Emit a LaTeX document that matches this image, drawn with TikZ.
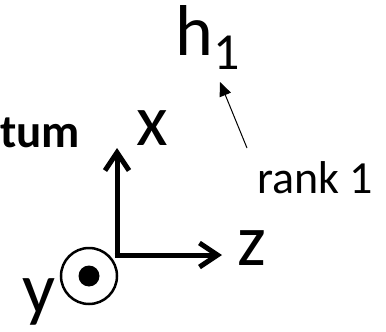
\documentclass[tikz,border=0pt]{standalone}
\usepackage{fontspec}
\setmainfont{Carlito}
\usetikzlibrary{arrows.meta, positioning}

\begin{document}
\begin{tikzpicture}[
  x=1pt, y=-1pt,
  axis/.style={line width=5pt, -{Straight Barb[length=18pt, width=24pt, line width=5pt]}},
  ptr/.style={line width=1pt, -{Triangle[length=14pt, width=12pt]}},
  big/.style={inner sep=0pt, font=\fontsize{73}{73}\selectfont},
  lbl/.style={inner sep=0pt, font=\fontsize{46}{46}\selectfont}
]
\useasboundingbox (0,0) rectangle (386,332);

% frame
\coordinate (o) at (117,255);
\coordinate (xtip) at (117,148);
\coordinate (ztip) at (222,255);
\draw[axis] (o) -- (xtip);
\draw[axis] ([xshift=-2.5pt]o) -- (ztip);

% out-of-plane y axis
\node[circle, draw, line width=2.5pt, minimum size=56pt, inner sep=0pt] (ycirc) at (89,276) {};
\fill (ycirc.center) circle (10.5pt);

% labels
\node[big, anchor=base west] (xlab) at (136,145) {x};
\node[big, anchor=base west] (zlab) at (237,265) {z};
\node[big, anchor=base west] (ylab) at (22,313) {y};
\node[inner sep=0pt, anchor=base west, font=\fontsize{47}{47}\selectfont\bfseries] (tum) at (0,147) {tum};
\node[inner sep=0pt, anchor=base west, font=\fontsize{72}{72}\selectfont] (h1) at (175,55)
  {h\raisebox{-14pt}{\fontsize{52}{52}\selectfont 1}};
\node[lbl, anchor=base west] (rank) at (257,193) {rank 1};

\coordinate (rtail) at (247,148);
\coordinate (rhead) at (220,82);
\draw[ptr] (rtail) -- (rhead);
\end{tikzpicture}
\end{document}
